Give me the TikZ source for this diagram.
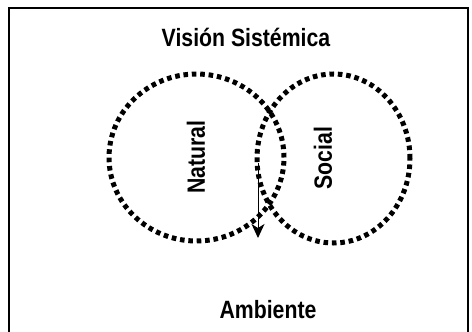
\documentclass[tikz,border=0pt]{standalone}
\usepackage{fontspec}
\setmainfont{Liberation Sans}[FakeStretch=0.85]
\usetikzlibrary{arrows.meta,shapes.geometric}

\begin{document}
\begin{tikzpicture}[x=1pt, y=-1pt, >={Stealth[length=14pt,width=13pt,inset=4pt]}]
			\tikzset{campo/.style={draw, ellipse, line width=5pt, dash pattern=on 4.6pt off 3.8pt, inner sep=0pt},
        rotulo/.style={font=\fontsize{25}{29}\selectfont\bfseries, inner sep=0pt},
        }
			\useasboundingbox (0,0) rectangle (472,332);
			\clip (0,0) rectangle (472,332);

			% marco abierto por abajo
			\draw[line width=2pt] (9,345) -- (9,8) -- (468,8) -- (468,345);

			\node [rotulo] (vision) at (246,37) {Visión Sistémica};
			\node [rotulo] (ambiente) at (268,310) {Ambiente};

			\node [campo, minimum width=175pt, minimum height=167pt] (natural) at (196.5,157.5) {};
			\node [campo, minimum width=153pt, minimum height=169pt] (social) at (333.5,158.5) {};

			\node [rotulo, rotate=90] (lnatural) at (196,157) {Natural};
			\node [rotulo, rotate=90] (lsocial) at (323,158) {Social};

			\coordinate (inicio) at (258,163);
			\coordinate (cruce) at (258,238);
			\draw[->, line width=1pt] (inicio) -- (cruce);

		\end{tikzpicture}
\end{document}
